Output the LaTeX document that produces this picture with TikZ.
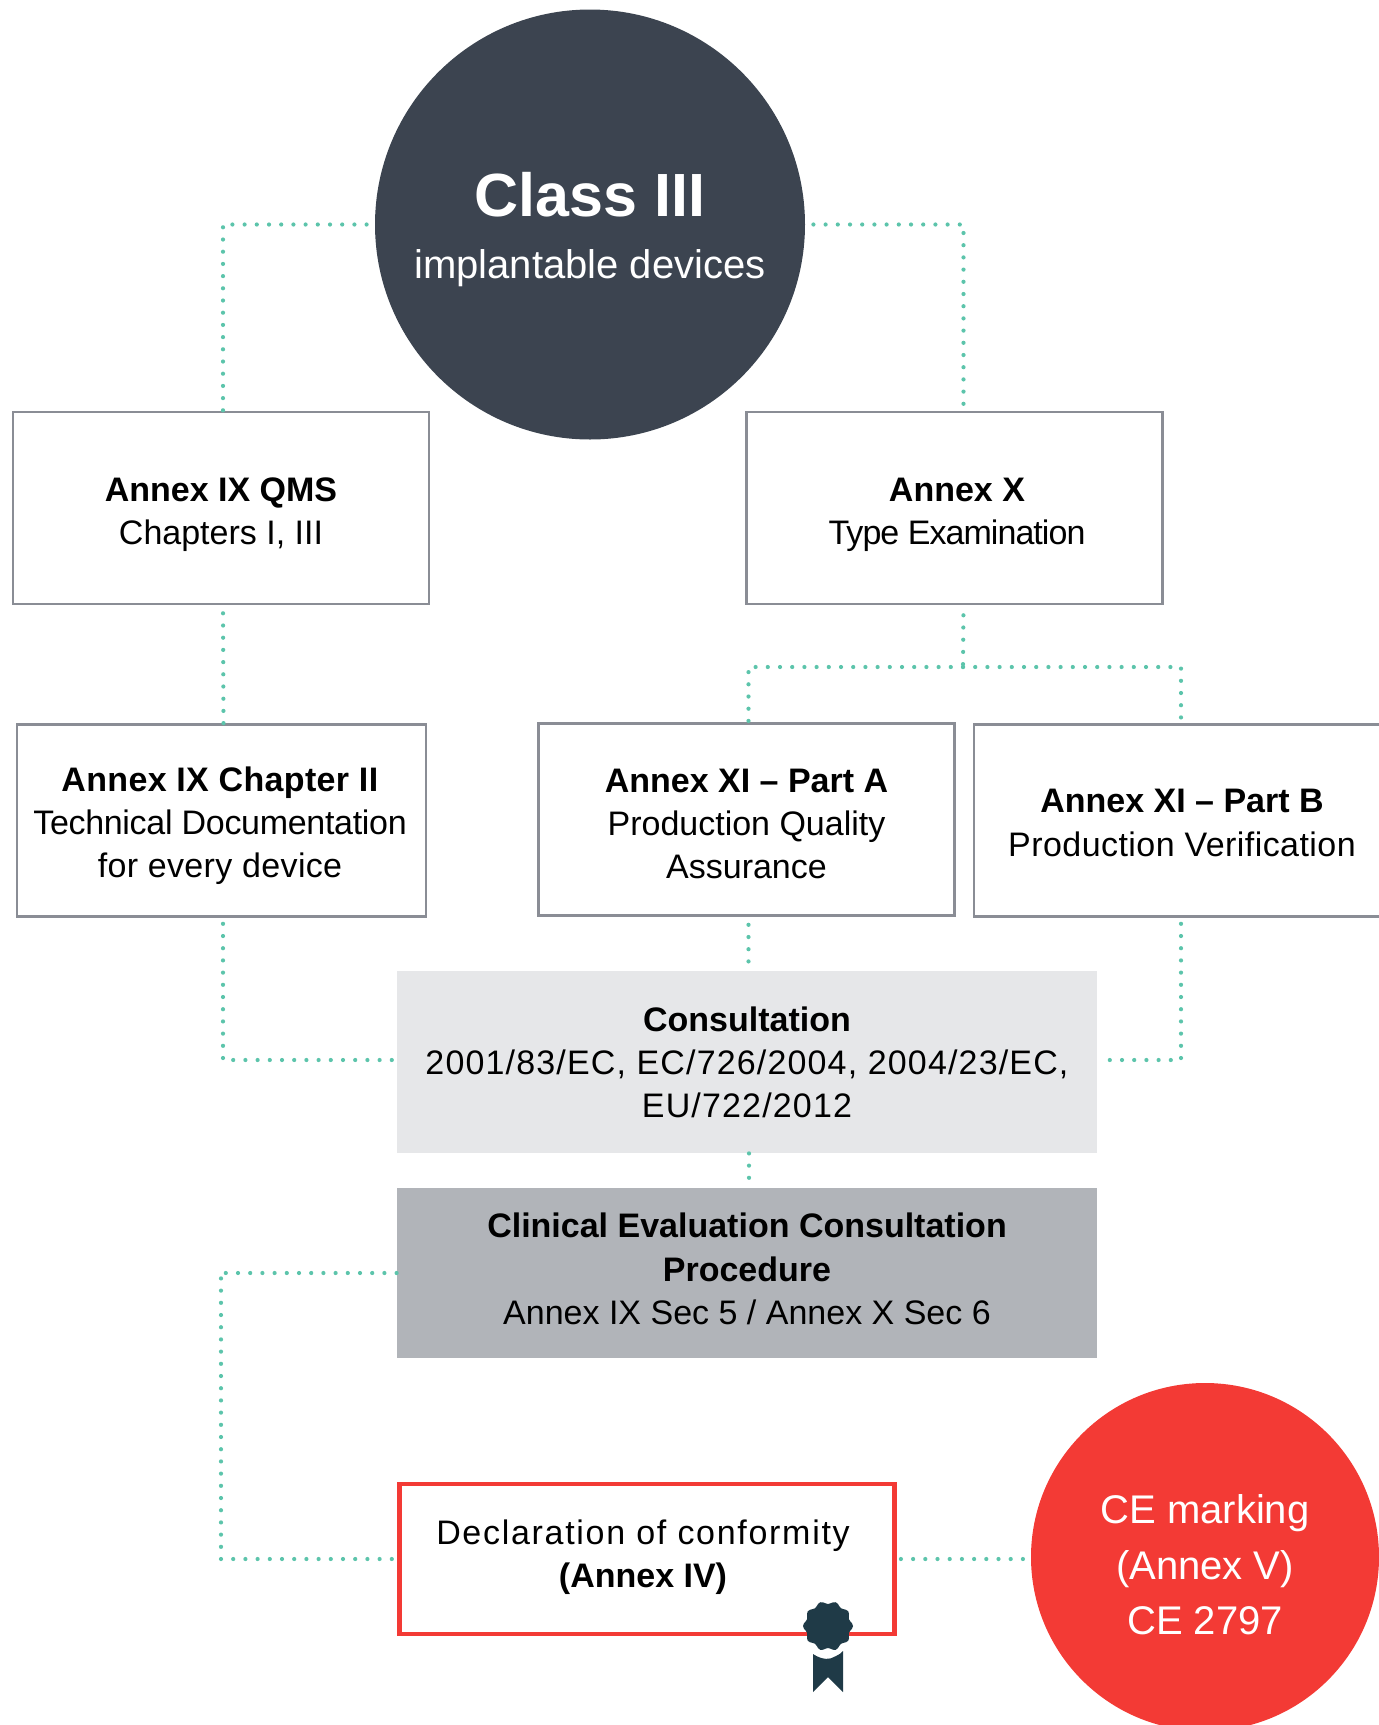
\documentclass[tikz,border=0pt]{standalone}
\usepackage{fontspec}
\setmainfont{Liberation Sans}
\usetikzlibrary{calc}
\definecolor{slatedark}{HTML}{3C4450}
\definecolor{boxgrey}{HTML}{8A8D95}
\definecolor{consultgrey}{HTML}{E6E7E9}
\definecolor{clinicalgrey}{HTML}{B1B4B9}
\definecolor{markred}{HTML}{F33A35}
\definecolor{dotgreen}{HTML}{5CC4AB}
\definecolor{sealblue}{HTML}{1F3A47}
\newcommand{\track}[2]{{\addfontfeature{LetterSpace=#1}#2}}
\tikzset{
  txt/.style={align=center, text=black, font=\fontsize{17}{21.6}\selectfont},
  box/.style={draw=boxgrey, line width=1.3pt, minimum width=208pt, minimum height=96pt},
  greybox/.style={minimum width=350pt},
  dots/.style={draw=dotgreen, line width=2.1pt, line cap=round, dash pattern=on 0pt off 6.1pt},
}
\begin{document}
\begin{tikzpicture}[x=0.5pt, y=-0.5pt]
  \useasboundingbox (0,0) rectangle (1379,1725);
  \node[circle, fill=slatedark, minimum size=215pt, inner sep=0pt] (top) at (590,224.5) {};
  \node[align=center, text=white, font=\fontsize{20}{31}\selectfont] (toplabel) at (590,230)
    {{\fontsize{30.5}{31}\selectfont\bfseries Class III}\\implantable devices};
  \node[box] (qms) at (221,508) {};
  \node[txt] (qmstext) at (221,514.5) {\textbf{Annex IX QMS}\\Chapters I, III};
  \node[box] (annexx) at (954.5,508) {};
  \node[txt] (annexxtext) at (957,514.5) {\textbf{Annex X}\\\track{-2.8}{Type Examination}};
  \node[box, minimum width=204.5pt] (chapter) at (221.5,820.5) {};
  \node[txt] (chaptertext) at (220,825.5) {\track{1}{\textbf{Annex IX Chapter II}}\\\track{-.9}{Technical Documentation}\\\track{1}{for every device}};
  \node[box] (parta) at (746.5,819.5) {};
  \node[txt] (partatext) at (746.5,824) {\textbf{Annex XI – Part A}\\Production Quality\\Assurance};
  \node[box, minimum width=203pt] (partb) at (1177,820.5) {};
  \node[txt] (partbtext) at (1182,823) {\textbf{Annex XI – Part B}\\\track{1.3}{Production Verification}};
  \node[greybox, fill=consultgrey, minimum height=91pt] (consult) at (747,1062) {};
  \node[txt] (consulttext) at (747,1062.5) {\textbf{Consultation}\\\track{3.4}{2001/83/EC, EC/726/2004, 2004/23/EC,}\\\track{3.4}{EU/722/2012}};
  \node[greybox, fill=clinicalgrey, minimum height=85pt] (clinical) at (747,1273) {};
  \node[txt] (clinicaltext) at (747,1269) {\textbf{Clinical Evaluation Consultation}\\\textbf{Procedure}\\Annex IX Sec 5 / Annex X Sec 6};
  \node[draw=markred, line width=2.4pt, minimum width=247.5pt, minimum height=75pt] (decl) at (647,1559) {};
  \node[txt] (decltext) at (643,1557) {\track{5}{Declaration of conformity}\\\textbf{(Annex IV)}};
  \node[circle, fill=markred, minimum size=174pt, inner sep=0pt] (ce) at (1205,1557) {};
  \node[align=center, text=white, font=\fontsize{20}{27.7}\selectfont] (cetext) at (1205,1565) {CE marking\\(Annex V)\\CE 2797};
  % junctions
  \coordinate (split) at (963,667);
  \coordinate (leftrun) at (221,1272);
  % connectors
  \draw[dots, shorten <=4pt] (top.west) -| ([xshift=1pt]qms.north);
  \draw[dots, shorten <=4pt] (top.east) -| ([xshift=4.5pt]annexx.north);
  \draw[dots, shorten <=4pt] ([xshift=1pt]qms.south) -- ([xshift=1pt]chapter.north);
  \draw[dots, shorten <=5pt] ([xshift=4.5pt]annexx.south) -- (split);
  \draw[dots] (split) -| ([xshift=1pt]parta.north);
  \draw[dots] (split) -| ([xshift=2pt]partb.north);
  \draw[dots, shorten <=4pt] ([xshift=1pt]parta.south) -- ([xshift=1pt]parta.south |- consult.north);
  \draw[dots, shorten <=3pt] ([xshift=.75pt]chapter.south) |- ([yshift=1pt]consult.west);
  \draw[dots, shorten <=3pt, shorten >=1pt] ([xshift=2pt]partb.south) |- ([yshift=1pt]consult.east);
  \draw[dots] ([xshift=1pt]consult.south) -- ([xshift=1pt]consult.south |- clinical.north);
  \draw[dots] (clinical.west) -| (leftrun) |- (decl.west);
  \draw[dots, shorten <=2pt, shorten >=2pt] (decl.east) -- (ce.west |- decl.east);
  % seal
  \fill[sealblue] (813,1654) .. controls (822,1660) and (830,1660) .. (836,1656) .. controls (839,1655) and (841,1653) .. (843,1651) -- (843,1692) -- (828,1677) -- (813,1692) -- cycle;
  \fill[sealblue] plot[smooth cycle, domain=0:354, samples=60] ({828+(23.5+1.5*cos(10*\x))*cos(\x)}, {1626+(23.5+1.5*cos(10*\x))*sin(\x)});
\end{tikzpicture}
\end{document}
